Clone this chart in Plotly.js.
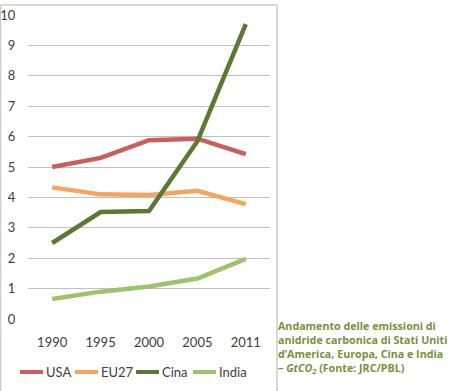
<!DOCTYPE html>
<html><head><meta charset="utf-8">
<script src="https://cdn.plot.ly/plotly-3.0.1.min.js"></script>
<style>html,body{margin:0;padding:0;background:#fff}#c{width:453px;height:391px}</style>
</head><body><div id="c"></div>
<script>
const years = ['1990','1995','2000','2005','2011'];
const usa = [5.0, 5.3, 5.88, 5.93, 5.42];
const eu27 = [4.33, 4.1, 4.08, 4.22, 3.78];
const cina = [2.5, 3.52, 3.55, 5.85, 9.7];
const india = [0.66, 0.9, 1.07, 1.33, 1.98];
const seriesNames = ['USA','EU27','Cina','India'];
const seriesData = [usa, eu27, cina, india];
const colors = ['#cd5c5c','#f5a560','#5b7a31','#9dc46c'];
const yTicks = [0,1,2,3,4,5,6,7,8,9,10];
const caption = 'Andamento delle emissioni di<br>anidride carbonica di Stati Uniti<br>d’America, Europa, Cina e India<br>– <i>GtCO<sub>2</sub></i> (Fonte: JRC/PBL)';

const FONT = 'Lato, "Liberation Sans", sans-serif';
const CAPFONT = '"Open Sans", Lato, sans-serif';
const traces = seriesData.map((d,i)=>({
  x: years, y: d, type:'scatter', mode:'lines', name: seriesNames[i],
  line:{color: colors[i], width:4.5}, showlegend:false
}));

const W=453,H=391,L=28,R=183,T=15,B=72;
const pw=W-L-R, ph=H-T-B;
const px=(x)=>(x-L)/pw, py=(y)=>(H-B-y)/ph;

const shapes=[{type:'rect',xref:'paper',yref:'paper',x0:px(0.5),x1:px(277),y0:py(400),y1:py(5),line:{color:'#cccccc',width:1.5}}];
const annotations=[];
const legX=[20,75,136,193];
const legY=372;
seriesNames.forEach((n,i)=>{
  shapes.push({type:'line',xref:'paper',yref:'paper',x0:px(legX[i]),x1:px(legX[i]+23),y0:py(legY),y1:py(legY),line:{color:colors[i],width:4}});
  annotations.push({xref:'paper',yref:'paper',x:px(legX[i]+24),y:py(legY),xanchor:'left',yanchor:'middle',showarrow:false,text:n,font:{family:FONT,size:13,color:'#404040'}});
});
annotations.push({xref:'paper',yref:'paper',x:px(276),y:py(317),xanchor:'left',yanchor:'top',align:'left',showarrow:false,text:'<b>'+caption+'</b>',font:{family:CAPFONT,size:10.7,color:'#76923c'}});

Plotly.newPlot('c',traces,{
  width:W,height:H,margin:{l:L,r:R,t:T,b:B},
  paper_bgcolor:'#fff',plot_bgcolor:'#fff',
  font:{family:FONT,size:13,color:'#404040'},
  xaxis:{type:'category',range:[-0.5,4.5],showgrid:false,zeroline:false,showline:false,ticks:'outside',ticklen:11,tickcolor:'rgba(0,0,0,0)',tickfont:{size:13,color:'#404040'}},
  yaxis:{range:[0,10],tickvals:yTicks,showgrid:true,gridcolor:'#c0c0c0',gridwidth:1,zeroline:false,showline:false,ticks:'outside',ticklen:9,tickcolor:'rgba(0,0,0,0)',tickfont:{size:13,color:'#404040'}},
  shapes:shapes,annotations:annotations
},{displayModeBar:false,staticPlot:true});
</script></body></html>
